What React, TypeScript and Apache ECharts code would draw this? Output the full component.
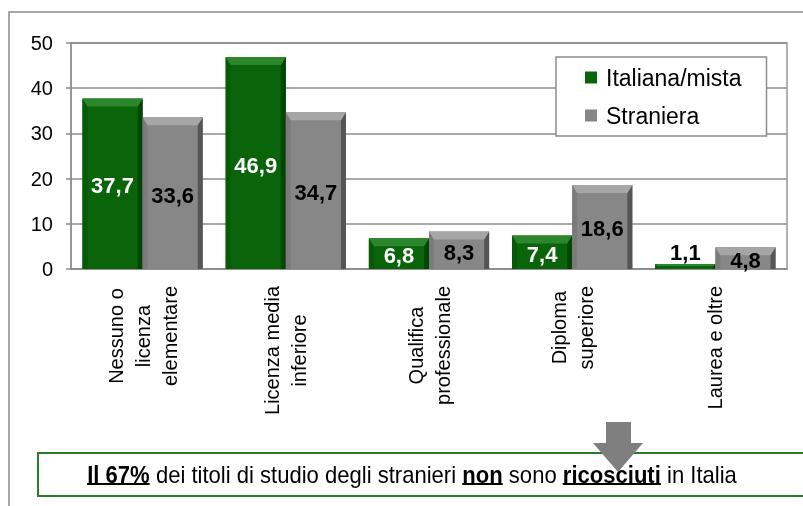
import React, { useEffect, useRef } from 'react';
import * as echarts from 'echarts';

const categories = [
  'Nessuno o\nlicenza\nelementare',
  'Licenza media\ninferiore',
  'Qualifica\nprofessionale',
  'Diploma\nsuperiore',
  'Laurea e oltre',
];
const seriesNames = ['Italiana/mista', 'Straniera'];
const italiana = [37.7, 46.9, 6.8, 7.4, 1.1];
const straniera = [33.6, 34.7, 8.3, 18.6, 4.8];
const yMin = 0;
const yMax = 50;
const yStep = 10;
const noteParts = [
  { text: 'Il 67%', strong: true },
  { text: '\u00a0dei titoli di studio degli stranieri\u00a0', strong: false },
  { text: 'non', strong: true },
  { text: '\u00a0sono\u00a0', strong: false },
  { text: 'ricosciuti', strong: true },
  { text: '\u00a0in Italia', strong: false },
];

const FONT = "'Liberation Sans', Arial, sans-serif";
const CAT_GAP = 0.16;
const NOTE_SIZE = 23;
const NOTE_WIDTH = 650;

const palette = [
  { main: '#0a640a', top: '#2c862c', left: '#085a08', right: '#044404', label: '#fff' },
  { main: '#878787', top: '#a6a6a6', left: '#7b7b7b', right: '#555555', label: '#000' },
];

function measureNote(): number {
  const ctx = document.createElement('canvas').getContext('2d');
  if (!ctx) return NOTE_WIDTH / 0.82;
  let w = 0;
  noteParts.forEach((p) => {
    ctx.font = `${p.strong ? 'bold ' : ''}${NOTE_SIZE}px ${FONT}`;
    w += ctx.measureText(p.text).width;
  });
  return w;
}

export default function App() {
  const ref = useRef<HTMLDivElement>(null);
  useEffect(() => {
    const chart = echarts.init(ref.current!, null, { renderer: 'svg' });
    const fmt = (v: number) => String(v).replace('.', ',');
    const underline = new echarts.graphic.LinearGradient(0, 0, 0, 1, [
      { offset: 0, color: 'rgba(0,0,0,0)' },
      { offset: 0.85, color: 'rgba(0,0,0,0)' },
      { offset: 0.85, color: '#000' },
      { offset: 0.93, color: '#000' },
      { offset: 0.93, color: 'rgba(0,0,0,0)' },
      { offset: 1, color: 'rgba(0,0,0,0)' },
    ]);
    const noteText = noteParts.map((p) => `{${p.strong ? 's' : 'n'}|${p.text}}`).join('');
    const noteScale = NOTE_WIDTH / measureNote();

    const renderBevel = (params: any, api: any) => {
      const cat = api.value(0);
      const band = api.size([1, 0])[0];
      const barW = (band * (1 - CAT_GAP)) / 2;
      const base = api.coord([cat, 0]);
      const children: any[] = [];
      [1, 2].forEach((dim, s) => {
        const v = api.value(dim);
        const c = palette[s];
        const xl = base[0] - barW + s * barW;
        const xr = xl + barW;
        const y0 = base[1];
        const yt = api.coord([cat, v])[1];
        const h = y0 - yt;
        const b = Math.min(8, h / 2.5);
        const bs = Math.min(5, b);
        if (h > 2) {
          children.push({
            type: 'polygon',
            shape: { points: [[xl, yt], [xl + bs, yt + b], [xl + bs, y0], [xl, y0]] },
            style: { fill: c.left },
          });
          children.push({
            type: 'polygon',
            shape: { points: [[xr, yt], [xr - bs, yt + b], [xr - bs, y0], [xr, y0]] },
            style: { fill: c.right },
          });
          children.push({
            type: 'polygon',
            shape: { points: [[xl, yt], [xr, yt], [xr - bs, yt + b], [xl + bs, yt + b]] },
            style: { fill: c.top },
          });
        }
        const above = h < 15;
        children.push({
          type: 'text',
          x: (xl + xr) / 2,
          y: above ? yt - 12 : (yt + y0) / 2 + 2,
          style: {
            text: fmt(v),
            align: 'center',
            verticalAlign: 'middle',
            fill: above ? '#000' : c.label,
            font: `bold 22px ${FONT}`,
          },
        });
      });
      return { type: 'group', children };
    };

    chart.setOption({
      animation: false,
      grid: {
        left: 71,
        right: 16,
        top: 43,
        bottom: 237,
        show: true,
        borderColor: '#999',
        borderWidth: 1.5,
      },
      legend: {
        orient: 'vertical',
        left: 556,
        top: 57,
        itemWidth: 12,
        itemHeight: 12,
        itemGap: 15,
        padding: [9, 25, 9, 29],
        backgroundColor: '#fff',
        borderColor: '#8c8c8c',
        borderWidth: 1.5,
        icon: 'rect',
        textStyle: { fontSize: 23, fontFamily: FONT, color: '#000', padding: [0, 0, 0, 4] },
        data: seriesNames,
      },
      xAxis: {
        type: 'category',
        data: categories,
        axisLine: { lineStyle: { color: '#8c8c8c', width: 1.5 } },
        axisTick: { length: 8, lineStyle: { color: '#8c8c8c', width: 1.5 } },
        axisLabel: {
          rotate: 90,
          margin: 17,
          interval: 0,
          formatter: (v: string) => v.split('\n').map((l) => `{c|${l}}`).join('\n'),
          rich: {
            c: { align: 'center', fontSize: 20, lineHeight: 27, fontFamily: FONT, color: '#000' },
          },
        },
      },
      yAxis: {
        type: 'value',
        min: yMin,
        max: yMax,
        interval: yStep,
        axisLine: { show: true, lineStyle: { color: '#8c8c8c', width: 1.5 } },
        axisTick: { show: true, length: 5, lineStyle: { color: '#8c8c8c', width: 1.5 } },
        splitLine: { lineStyle: { color: '#8c8c8c', width: 1.5 } },
        axisLabel: { fontSize: 20, fontFamily: FONT, color: '#000', margin: 18 },
      },
      series: [
        {
          name: seriesNames[0],
          type: 'bar',
          barGap: '0%',
          barCategoryGap: `${CAT_GAP * 100}%`,
          itemStyle: { color: palette[0].main },
          data: italiana,
        },
        {
          name: seriesNames[1],
          type: 'bar',
          barGap: '0%',
          barCategoryGap: `${CAT_GAP * 100}%`,
          itemStyle: { color: palette[1].main },
          data: straniera,
        },
        {
          name: 'bevel',
          type: 'custom',
          z: 3,
          silent: true,
          clip: false,
          encode: { x: 0, y: [1, 2] },
          renderItem: renderBevel,
          data: categories.map((_, i) => [i, italiana[i], straniera[i]]),
        },
      ],
      graphic: [
        {
          type: 'rect',
          z: -10,
          shape: { x: 9, y: 12, width: 820, height: 520 },
          style: { fill: 'none', stroke: '#8c8c8c', lineWidth: 1.5 },
        },
        {
          type: 'rect',
          z: 10,
          shape: { x: 38, y: 453, width: 790, height: 43 },
          style: { fill: '#fff', stroke: '#2a7a2a', lineWidth: 2 },
        },
        {
          type: 'text',
          z: 11,
          x: 412,
          y: 475,
          scaleX: noteScale,
          style: {
            text: noteText,
            align: 'center',
            verticalAlign: 'middle',
            rich: {
              n: { fontSize: NOTE_SIZE, fontFamily: FONT, color: '#000', lineHeight: 26 },
              s: {
                fontSize: NOTE_SIZE,
                fontFamily: FONT,
                fontWeight: 'bold',
                color: '#000',
                lineHeight: 26,
                backgroundColor: underline,
              },
            },
          },
        },
        {
          type: 'polygon',
          z: 12,
          shape: {
            points: [
              [606, 422],
              [631, 422],
              [631, 443],
              [643, 443],
              [618, 472],
              [593, 443],
              [606, 443],
            ],
          },
          style: { fill: '#7f7f7f' },
        },
      ],
    });
    return () => chart.dispose();
  }, []);
  return <div ref={ref} style={{ position: 'fixed', left: 0, top: 0, width: 803, height: 506 }} />;
}
